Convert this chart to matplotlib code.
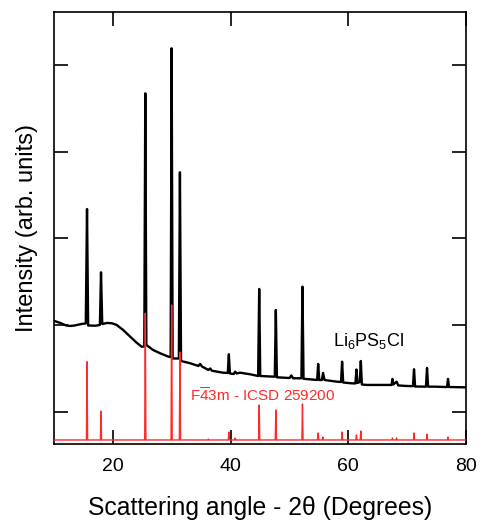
import numpy as np
import matplotlib
matplotlib.use("Agg")
import matplotlib.pyplot as plt

plt.rcParams['font.family'] = ['Liberation Sans', 'DejaVu Sans']
plt.rcParams['mathtext.fontset'] = 'custom'
plt.rcParams['mathtext.rm'] = 'Liberation Sans'
plt.rcParams['mathtext.it'] = 'Liberation Sans:italic'
plt.rcParams['mathtext.bf'] = 'Liberation Sans:bold'

# measured pattern, Li6PS5Cl (traced: 2theta, intensity in arb. units)
meas_2theta = [10.0, 11.0, 12.0, 12.7, 13.5, 14.6, 15.35, 15.56, 15.75, 17.0,
               17.75, 17.94, 18.15, 19.0, 19.8, 20.6, 21.7, 22.9, 24.0, 24.85,
               25.3, 25.47, 25.65, 26.8, 28.0, 29.4, 29.78, 29.95, 30.12, 31.18,
               31.36, 31.55, 33.1, 34.5, 34.8, 35.1, 36.2, 36.5, 36.8, 38.7,
               39.5, 39.68, 39.86, 40.5, 40.76, 41.0, 41.6, 43.3, 44.66, 44.84,
               45.02, 47.49, 47.67, 47.85, 50.0, 50.3, 50.6, 52.02, 52.2, 52.38,
               53.4, 54.7, 54.87, 55.05, 55.5, 55.7, 55.95, 58.0, 58.76, 58.94,
               59.12, 60.5, 61.2, 61.38, 61.56, 61.95, 62.12, 62.3, 63.1, 67.35,
               67.5, 67.65, 68.2, 68.5, 69.9, 70.99, 71.17, 71.35, 73.2, 73.38,
               73.56, 74.7, 76.78, 76.95, 77.12, 79.5, 80.0]
meas_int = [1.419, 1.396, 1.367, 1.361, 1.367, 1.384, 1.390, 2.710, 1.367, 1.364,
            1.373, 1.980, 1.384, 1.396, 1.392, 1.373, 1.315, 1.238, 1.168, 1.122,
            1.125, 4.045, 1.142, 1.084, 1.046, 1.007, 1.003, 4.564, 0.986, 0.986,
            3.134, 0.957, 0.931, 0.900, 0.923, 0.894, 0.854, 0.871, 0.845, 0.822,
            0.819, 1.035, 0.813, 0.807, 0.834, 0.813, 0.822, 0.804, 0.784, 1.788,
            0.784, 0.776, 1.546, 0.769, 0.761, 0.790, 0.758, 0.758, 1.814, 0.752,
            0.746, 0.738, 0.923, 0.738, 0.738, 0.819, 0.738, 0.719, 0.715, 0.949,
            0.709, 0.700, 0.698, 0.859, 0.704, 0.715, 0.957, 0.686, 0.681, 0.681,
            0.750, 0.686, 0.719, 0.675, 0.669, 0.667, 0.862, 0.663, 0.661, 0.877,
            0.661, 0.661, 0.657, 0.750, 0.657, 0.654, 0.654]

# reference pattern F-43m, ICSD 259200 (peak position, peak height)
ref_2theta = [15.56, 17.94, 25.47, 29.95, 31.36, 36.2, 39.68, 40.76, 44.84, 47.67,
              52.2, 54.87, 55.66, 58.94, 61.38, 62.12, 67.5, 68.2, 71.17, 73.38, 76.95]
ref_height = [0.903, 0.334, 1.461, 1.557, 1.015, 0.010, 0.092, 0.023, 0.404, 0.346,
              0.415, 0.081, 0.035, 0.092, 0.058, 0.104, 0.023, 0.023, 0.081, 0.069, 0.035]
ref_base = 0.046

# build the stick pattern as a line
rx = [10.0]
ry = [ref_base]
for p, h in zip(ref_2theta, ref_height):
    rx += [p - 0.1, p, p + 0.1]
    ry += [ref_base, ref_base + h, ref_base]
rx.append(80.0)
ry.append(ref_base)

fig = plt.figure(figsize=(4.82, 5.2), dpi=100)
ax = fig.add_axes([0.1127, 0.1462, 0.854, 0.8313])

ax.plot(meas_2theta, meas_int, color='black', lw=1.7, zorder=2)
ax.plot(rx, ry, color='#ff2a2a', lw=1.0, zorder=3)

ax.text(57.36, 1.19, 'Li$_6$PS$_5$Cl', fontsize=13, va='center', ha='left')
ax.text(33.06, 0.557, r'F$\overline{\mathrm{4}}$3m - ICSD 259200', fontsize=11,
        color='#ff2a2a', va='center', ha='left')

ax.set_xlim(10, 80)
ax.set_ylim(0, 4.986)
ax.set_xticks([20, 40, 60, 80])
ax.set_yticks(np.arange(0.3725, 4.9, 1))
ax.set_yticklabels([])
ax.tick_params(direction='in', length=10, width=1.2, top=True, right=True,
               labelsize=14, pad=10)
for s in ax.spines.values():
    s.set_linewidth(1.2)

ax.set_xlabel('Scattering angle - 2θ (Degrees)', fontsize=17.8, labelpad=15)
ax.set_ylabel('Intensity (arb. units)', fontsize=17, labelpad=1.5)

fig.savefig('out.png', dpi=100)
